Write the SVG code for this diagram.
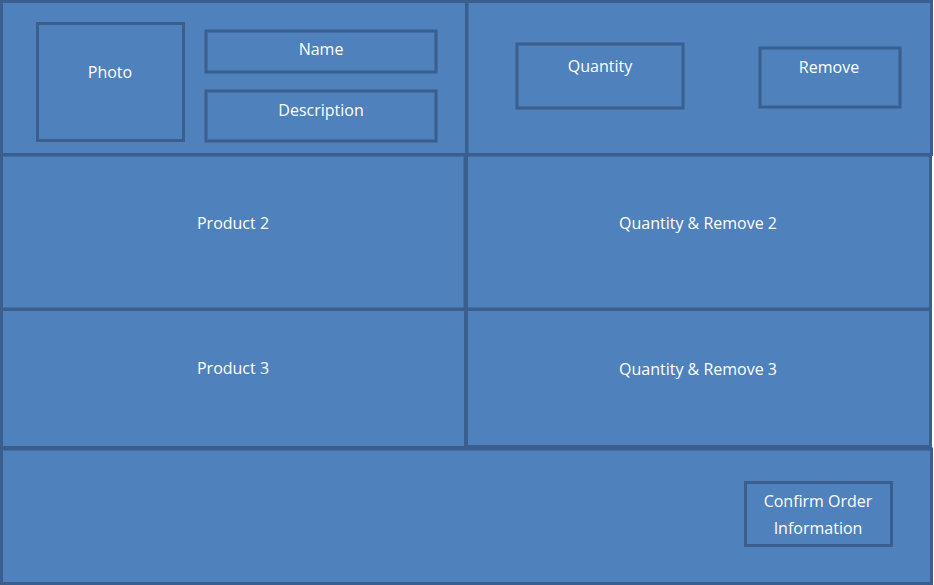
<svg xmlns="http://www.w3.org/2000/svg" width="934" height="585" viewBox="0 0 934 585">
<style>
.p{fill:#4f81bd;stroke:#3a5f8e;stroke-width:3}
.t{fill:#ffffff;font-family:"Open Sans","Liberation Sans",sans-serif;font-size:16px;text-anchor:middle}
</style>
<rect width="934" height="585" fill="#ffffff"/>
<g id="product1">
<rect class="p" x="1.5" y="1.5" width="465" height="153"/>
</g>
<g id="qr1">
<rect class="p" x="467" y="1.5" width="464.5" height="153"/>
</g>
<g id="product2">
<rect class="p" x="1.5" y="155" width="463.5" height="154"/>
<text class="t" x="233" y="229">Product 2</text>
</g>
<g id="qr2">
<rect class="p" x="466.5" y="155" width="464" height="154"/>
<text class="t" x="698" y="229">Quantity &amp; Remove 2</text>
</g>
<g id="product3">
<rect class="p" x="1.5" y="309.5" width="464" height="138"/>
<text class="t" x="233" y="374">Product 3</text>
</g>
<g id="qr3">
<rect class="p" x="466.5" y="309.5" width="464" height="137"/>
<text class="t" x="698" y="375">Quantity &amp; Remove 3</text>
</g>
<g id="footer">
<rect class="p" x="1.5" y="449" width="930" height="134.5"/>
</g>
<g id="photo">
<rect class="p" x="37.5" y="23.5" width="146" height="117"/>
<text class="t" x="110" y="78">Photo</text>
</g>
<g id="name">
<rect class="p" x="206" y="31" width="230" height="41"/>
<text class="t" x="321" y="55">Name</text>
</g>
<g id="description">
<rect class="p" x="206" y="91" width="230" height="50"/>
<text class="t" x="321" y="116">Description</text>
</g>
<g id="quantity">
<rect class="p" x="517" y="44" width="166" height="64"/>
<text class="t" x="600" y="72">Quantity</text>
</g>
<g id="remove">
<rect class="p" x="760" y="48" width="140" height="59"/>
<text class="t" x="829" y="73">Remove</text>
</g>
<g id="confirm">
<rect class="p" x="745.5" y="482.5" width="146" height="63"/>
<text class="t" x="818" y="507">Confirm Order</text>
<text class="t" x="818" y="534">Information</text>
</g>
<g id="connectors"></g>
</svg>
